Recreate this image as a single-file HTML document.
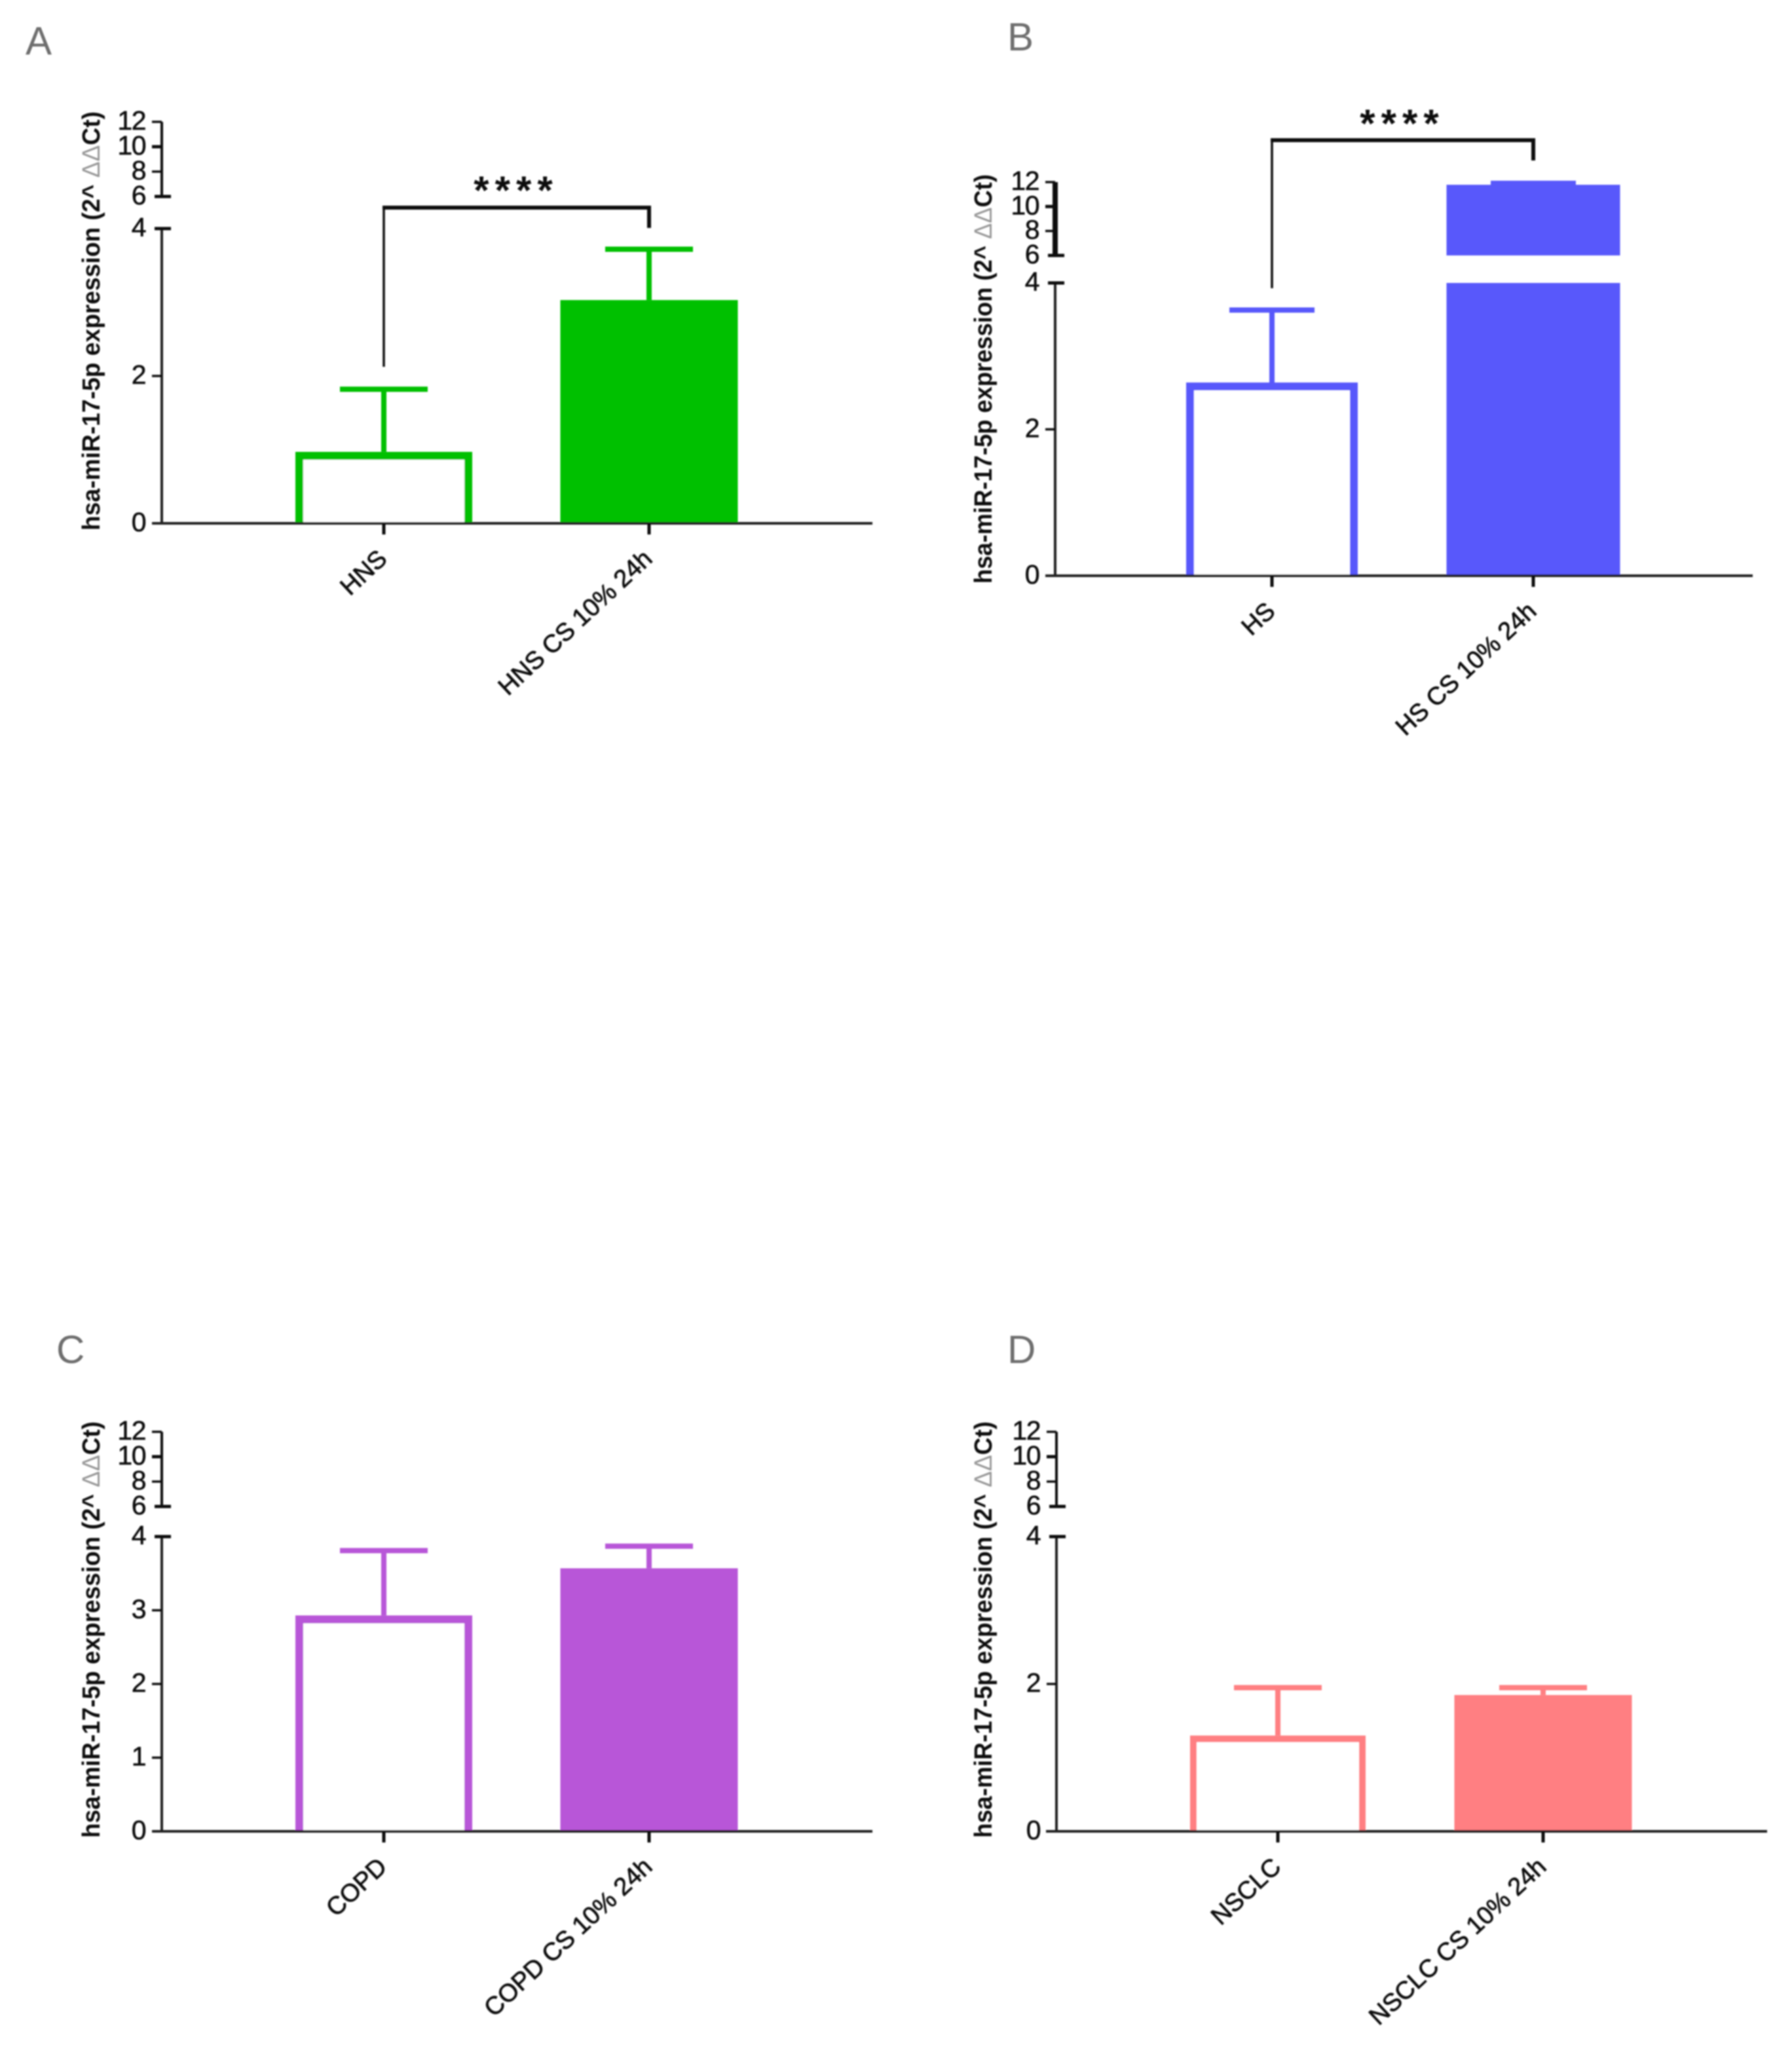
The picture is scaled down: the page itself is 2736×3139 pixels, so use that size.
<!DOCTYPE html>
<html lang="en">
<head>
<meta charset="utf-8">
<title>hsa-miR-17-5p expression panels</title>
<style>
html,body{margin:0;padding:0;background:#fff;}
svg{display:block;}
text{font-family:"Liberation Sans",Arial,sans-serif;}
</style>
</head>
<body>
<svg id="figure" xmlns="http://www.w3.org/2000/svg" width="2736" height="3139" viewBox="0 0 2736 3139">
<defs><filter id="soft" x="-2%" y="-2%" width="104%" height="104%"><feGaussianBlur stdDeviation="1.1"/></filter></defs>
<rect width="2736" height="3139" fill="#ffffff"/>
<g id="root" filter="url(#soft)"></g>
</svg>
<script>
const upperTicks = [6, 8, 10, 12];

const panelACategories = ['HNS', 'HNS CS 10% 24h'];
const panelAMeans = [0.97, 3.03];
const panelAErrorTops = [1.82, 3.72];
const panelALowerTicks = [0, 2, 4];

const panelBCategories = ['HS', 'HS CS 10% 24h'];
const panelBMeans = [2.64, 11.78];
const panelBErrorTops = [3.63, 11.9];
const panelBLowerTicks = [0, 2, 4];

const panelCCategories = ['COPD', 'COPD CS 10% 24h'];
const panelCMeans = [2.93, 3.57];
const panelCErrorTops = [3.81, 3.87];
const panelCLowerTicks = [0, 1, 2, 3, 4];

const panelDCategories = ['NSCLC', 'NSCLC CS 10% 24h'];
const panelDMeans = [1.3, 1.85];
const panelDErrorTops = [1.95, 1.95];
const panelDLowerTicks = [0, 2, 4];

const SVGNS = 'http://www.w3.org/2000/svg';
const root = document.getElementById('root');

function make(parent, tag, attrs) {
  const el = document.createElementNS(SVGNS, tag);
  for (const k in attrs) el.setAttribute(k, attrs[k]);
  parent.appendChild(el);
  return el;
}

function drawPanel(p) {
  const g = make(root, 'g', {});
  
  

  // Broken y axis: 0-4 lower segment, 6-12 upper segment
  const yLower = v => p.y0 + (p.y4 - p.y0) * v / 4;
  const yUpper = v => p.y6 + (p.y12 - p.y6) * (v - 6) / 6;
  const yOf = v => (v <= 4 ? yLower(v) : (v >= 6 ? yUpper(v) : p.y4 + (p.y6 - p.y4) * (v - 4) / 2));
  const xOf = i => p.xFirst + i * p.xStep;

  const panelLabel = make(g, 'text', {x: p.letterX, y: p.letterY, 'font-size': 60, fill: '#6e6e6e'});
  
  
  panelLabel.textContent = p.letter;

  // Bars
  p.means.forEach((m, i) => {
    const cx = xOf(i);
    const filled = i === 1;
    const half = filled ? p.fillW / 2 : p.openW / 2;
    if (filled) {
      const low = make(g, 'rect', {x: cx - half, y: yLower(Math.min(m, 4)), width: half * 2, height: p.y0 - yLower(Math.min(m, 4)), fill: p.color});
      
      
      if (m > 6) {
        const up = make(g, 'rect', {x: cx - half, y: yUpper(m), width: half * 2, height: p.y6 - yUpper(m), fill: p.color});
        
        
      }
    } else {
      const s = p.barStroke;
      const t = yOf(m) + s / 2;
      const open = make(g, 'path', {d: 'M' + (cx - half + s / 2) + ' ' + p.y0 + 'V' + t + 'H' + (cx + half - s / 2) + 'V' + p.y0, fill: '#ffffff', stroke: p.color, 'stroke-width': s});
      
      
    }
    const top = yOf(p.errorTops[i]);
    const stem = make(g, 'line', {x1: cx, x2: cx, y1: yOf(m), y2: top, stroke: p.color, 'stroke-width': 8});
    
    
    const cap = make(g, 'line', {x1: cx - p.capW / 2, x2: cx + p.capW / 2, y1: top, y2: top, stroke: p.color, 'stroke-width': 8});
    
    
  });

  // Y axis lines
  const axLow = make(g, 'line', {x1: p.axisX, x2: p.axisX, y1: p.y0, y2: p.y4, stroke: '#222', 'stroke-width': 4});
  
  
  const axUp = make(g, 'line', {x1: p.axisX, x2: p.axisX, y1: p.y6, y2: p.y12, stroke: '#111', 'stroke-width': p.upperAxisW});
  
  

  // Y ticks and labels
  p.lowerTicks.concat(upperTicks).forEach(v => {
    const y = yOf(v);
    const isBreak = v === 4 || v === 6;
    const tick = make(g, 'line', {x1: isBreak ? p.axisX - 11 : p.axisX - 15, x2: isBreak ? p.axisX + 14 : p.axisX, y1: y, y2: y, stroke: '#111', 'stroke-width': isBreak || v === 10 ? 5 : 3.5});
    
    
    const lbl = make(g, 'text', {x: p.axisX - 25, y: y + 12, 'text-anchor': 'end', 'font-size': 41, 'letter-spacing': -1.5, fill: '#111', stroke: '#111', 'stroke-width': 0.6});
    
    
    lbl.textContent = v;
  });

  // X axis
  const axX = make(g, 'line', {x1: p.xStart, x2: p.xEnd, y1: p.y0, y2: p.y0, stroke: '#222', 'stroke-width': 4});
  
  

  p.categories.forEach((c, i) => {
    const cx = xOf(i);
    const t = make(g, 'line', {x1: cx, x2: cx, y1: p.y0, y2: p.y0 + 17, stroke: '#111', 'stroke-width': 5});
    
    
    const ax = cx + 7, ay = p.y0 + 57;
    const lbl = make(g, 'text', {x: ax, y: ay, 'text-anchor': 'end', 'font-size': 38, fill: '#111', stroke: '#111', 'stroke-width': 0.8, transform: 'rotate(-43 ' + ax + ' ' + ay + ')'});
    
    
    lbl.textContent = c;
  });

  // Y axis title
  const ty = (p.titleTop + p.titleBottom) / 2;
  const title = make(g, 'text', {x: p.titleX, y: ty, 'text-anchor': 'middle', 'font-size': 38, 'font-weight': 'bold', fill: '#111', textLength: p.titleBottom - p.titleTop, lengthAdjust: 'spacingAndGlyphs', transform: 'rotate(-90 ' + p.titleX + ' ' + ty + ')'});
  
  
  title.appendChild(document.createTextNode('hsa-miR-17-5p expression (2^ '));
  const delta = make(title, 'tspan', {'font-weight': 'normal', fill: '#999999'});
  delta.textContent = 'ΔΔ';
  title.appendChild(document.createTextNode('Ct)'));

  // Significance bracket
  if (p.bracket) {
    const b = p.bracket;
    const xa = xOf(0), xb = xOf(1);
    const left = make(g, 'line', {x1: xa, x2: xa, y1: b.leftBottom, y2: b.top, stroke: '#111', 'stroke-width': 3.5});
    
    
    const topLine = make(g, 'line', {x1: xa - 2, x2: xb + 3, y1: b.top, y2: b.top, stroke: '#111', 'stroke-width': 6});
    
    
    const right = make(g, 'line', {x1: xb, x2: xb, y1: b.top, y2: b.rightBottom, stroke: '#111', 'stroke-width': 6});
    
    
    const stars = make(g, 'text', {x: b.starsX, y: b.starsY, 'text-anchor': 'middle', 'font-size': 60, 'font-weight': 'bold', 'letter-spacing': 9, fill: '#111'});
    
    
    stars.textContent = '****';
  }
}

drawPanel({letter: 'A', letterX: 39, letterY: 83, categories: panelACategories, means: panelAMeans, errorTops: panelAErrorTops, lowerTicks: panelALowerTicks,
  color: '#00c000', axisX: 247, y0: 799, y4: 349, y6: 300, y12: 186, xStart: 233, xEnd: 1332, xFirst: 586, xStep: 405, openW: 270, fillW: 271, capW: 134, barStroke: 12, upperAxisW: 4,
  titleX: 152, titleTop: 170, titleBottom: 810, bracket: {leftBottom: 560, top: 317, rightBottom: 348, starsX: 788, starsY: 311}});

drawPanel({letter: 'B', letterX: 1538, letterY: 77, categories: panelBCategories, means: panelBMeans, errorTops: panelBErrorTops, lowerTicks: panelBLowerTicks,
  color: '#5858fb', axisX: 1611, y0: 879, y4: 432, y6: 390, y12: 278, xStart: 1596, xEnd: 2676, xFirst: 1942, xStep: 399, openW: 262, fillW: 265, capW: 130, barStroke: 12, upperAxisW: 8,
  titleX: 1514, titleTop: 266, titleBottom: 891, bracket: {leftBottom: 440, top: 214, rightBottom: 245, starsX: 2141, starsY: 209}});

drawPanel({letter: 'C', letterX: 86, letterY: 2081, categories: panelCCategories, means: panelCMeans, errorTops: panelCErrorTops, lowerTicks: panelCLowerTicks,
  color: '#b857d8', axisX: 247, y0: 2796, y4: 2346, y6: 2300, y12: 2186, xStart: 233, xEnd: 1332, xFirst: 586, xStep: 405, openW: 270, fillW: 271, capW: 134, barStroke: 12, upperAxisW: 4,
  titleX: 152, titleTop: 2170, titleBottom: 2806});

drawPanel({letter: 'D', letterX: 1538, letterY: 2081, categories: panelDCategories, means: panelDMeans, errorTops: panelDErrorTops, lowerTicks: panelDLowerTicks,
  color: '#ff7f82', axisX: 1613, y0: 2796, y4: 2346, y6: 2300, y12: 2186, xStart: 1597, xEnd: 2698, xFirst: 1951, xStep: 405, openW: 268, fillW: 271, capW: 134, barStroke: 10, upperAxisW: 4,
  titleX: 1514, titleTop: 2170, titleBottom: 2806});
</script>
</body>
</html>
